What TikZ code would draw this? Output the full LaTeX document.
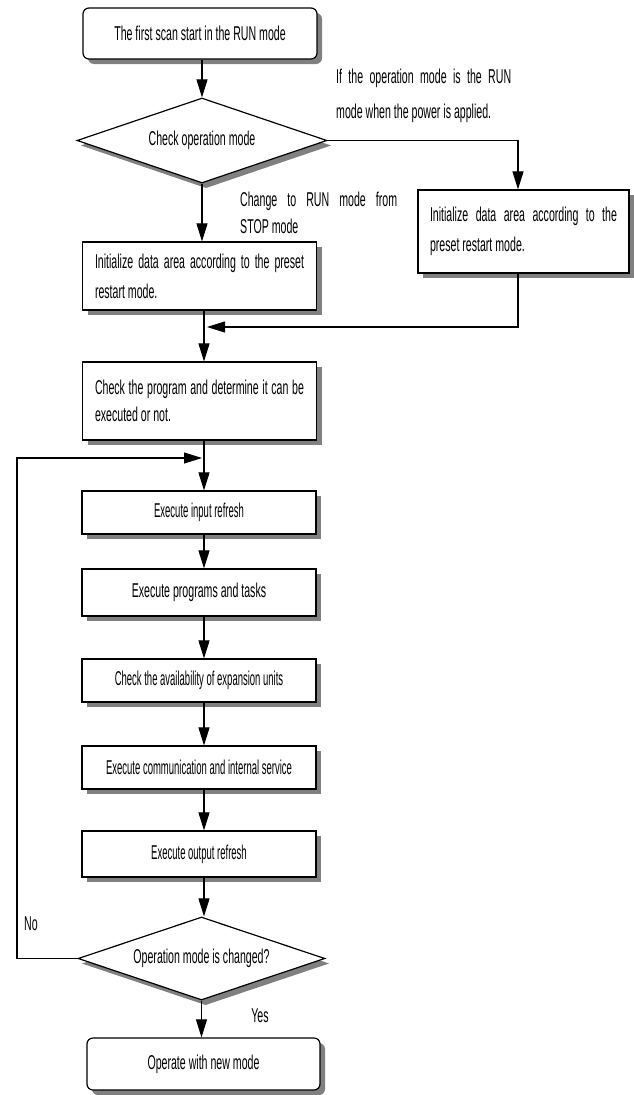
\documentclass[tikz,border=0pt]{standalone}
\usepackage{fontspec}
\setmainfont{Liberation Sans}[FakeStretch=0.53]
\newfontfamily\tightfont{Liberation Sans}[FakeStretch=0.475]
\usetikzlibrary{shapes.geometric,arrows.meta}
\begin{document}
\begin{tikzpicture}[x=1pt,y=-1pt]
\useasboundingbox (0,0) rectangle (634,1095);
% shadows (drawn first, offset down-right)
\fill[gray,rounded corners=6pt] (88,13) rectangle (322,64);
\fill[gray] (206,103) -- (331,145.5) -- (206,188) -- (81,145.5) -- cycle;
\fill[gray] (423,195) rectangle (634,278);
\fill[gray] (87.5,247) rectangle (321.5,315);
\fill[gray] (87.5,367) rectangle (321.5,445);
\fill[gray] (87,496) rectangle (321,539);
\fill[gray] (87,574) rectangle (321,621);
\fill[gray] (87,664) rectangle (321,707);
\fill[gray] (87,751) rectangle (321,794);
\fill[gray] (87,836) rectangle (321,882);
\fill[gray] (205.5,922) -- (329,963.5) -- (205.5,1005) -- (82,963.5) -- cycle;
\fill[gray,rounded corners=6pt] (92,1043) rectangle (325,1095);
\begin{scope}[
  font=\fontsize{20}{30}\selectfont,
  box/.style={draw,fill=white,line width=1.2pt,inner sep=0pt,minimum width=234pt},
  rbox/.style={box,rounded corners=6pt},
  jbox/.style={box,text width=209pt,align=justify,inner xsep=12pt},
  tbox/.style={box,font=\tightfont\fontsize{20}{30}\selectfont},
  dia/.style={diamond,draw,fill=white,line width=1.2pt,inner sep=0pt,aspect=3},
  arr/.style={-{Triangle[length=18pt,width=11pt]},line width=1.1pt},
  lbl/.style={inner sep=0pt,align=justify}]
% nodes
\node[rbox,minimum height=51pt] (start) at (200,33.5) {The first scan start in the RUN mode};
\node[dia,minimum width=250pt,minimum height=85pt] (d1) at (202,140.5) {Check operation mode};
\node[box,minimum width=211pt,minimum height=83pt,text width=187pt,align=justify,inner xsep=12pt] (r) at (523.5,231.5) {Initialize data area according to the\linebreak preset restart mode.};
\node[jbox,minimum height=68pt] (b2) at (199.5,276) {Initialize data area according to the preset\linebreak restart mode.};
\node[jbox,minimum height=78pt,font=\fontsize{20}{27}\selectfont] (b3) at (199.5,401) {Check the program and determine it can be\linebreak executed or not.};
\node[tbox,minimum height=43pt] (b4) at (199,512.5) {Execute input refresh};
\node[box,minimum height=47pt] (b5) at (199,592.5) {Execute programs and tasks};
\node[tbox,minimum height=43pt] (b6) at (199,680.5) {Check the availability of expansion units};
\node[tbox,minimum height=43pt] (b7) at (199,767.5) {Execute communication and internal service};
\node[tbox,minimum height=46pt] (b8) at (199,854) {Execute output refresh};
\node[dia,minimum width=247pt,minimum height=83pt] (d2) at (201.5,958.5) {Operation mode is changed?};
\node[rbox,minimum width=233pt,minimum height=52pt] (fin) at (203.5,1064) {Operate with new mode};
% labels
\node[lbl,text width=175pt,anchor=base west,font=\fontsize{20}{35}\selectfont] (l1) at (336,83) {If the operation mode is the RUN\linebreak mode when the power is applied.};
\node[lbl,text width=157pt,anchor=base west,font=\fontsize{20}{27}\selectfont] (l2) at (240,206) {Change to RUN mode from\linebreak STOP mode};
\node[inner sep=0pt] (no) at (31,924) {No};
\node[inner sep=0pt] (yes) at (260,1016) {Yes};
% coordinates
\coordinate (ax) at (204,0);
\coordinate (rc) at (518,0);
\coordinate (m) at (207,327);
\coordinate (lp) at (17,458);
\coordinate (lt) at (202,458);
% connectors
\draw[arr] (start.south -| d1.north) -- (d1.north);
\draw[arr] (d1.south) -- (b2.north -| d1.south);
\draw[arr] (d1.east) -| (r.north -| rc);
\draw[arr] (r.south -| rc) |- (m);
\draw[arr] (b2.south -| ax) -- (b3.north -| ax);
\draw[arr] (b3.south -| ax) -- (b4.north -| ax);
\draw[arr] (d2.west) -| (lp) -- (lt);
\draw[arr] (b4.south -| ax) -- (b5.north -| ax);
\draw[arr] (b5.south -| ax) -- (b6.north -| ax);
\draw[arr] (b6.south -| ax) -- (b7.north -| ax);
\draw[arr] (b7.south -| ax) -- (b8.north -| ax);
\draw[arr] (b8.south -| ax) -- (d2.north -| ax);
\draw[arr] (d2.south) -- (fin.north -| d2.south);
\end{scope}
\end{tikzpicture}
\end{document}
